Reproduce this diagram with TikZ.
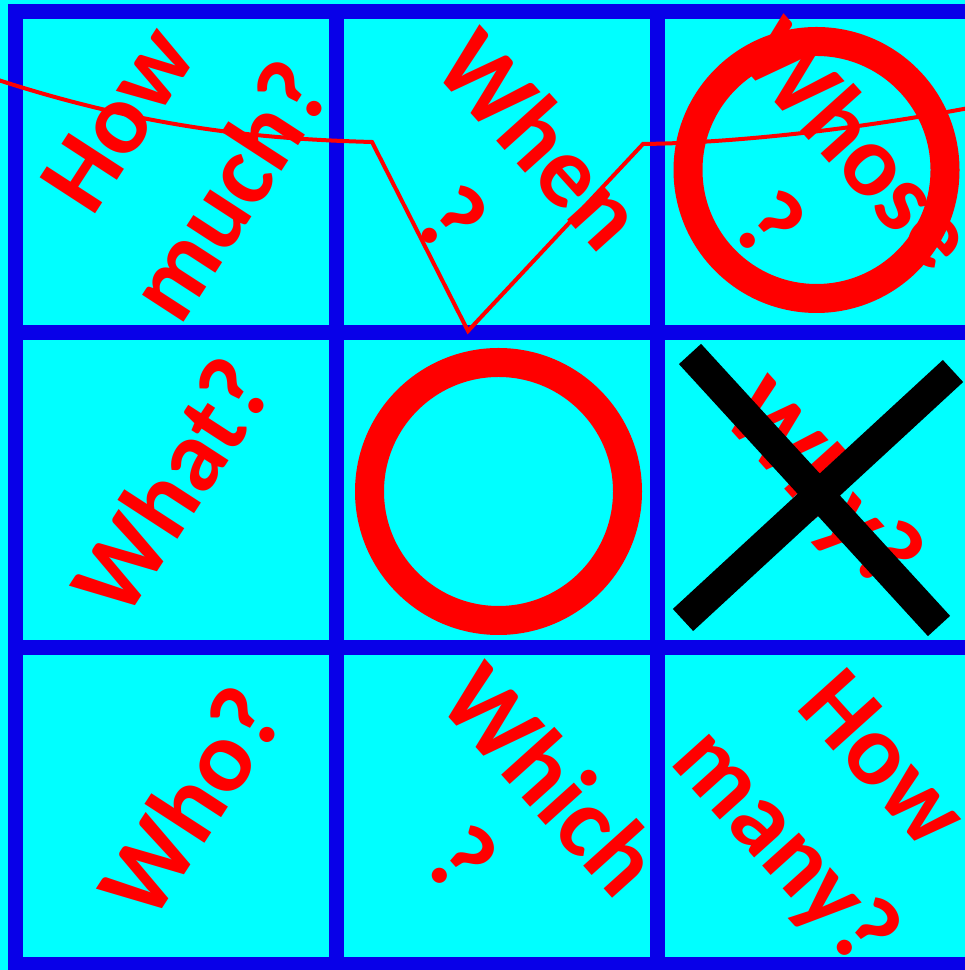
\documentclass[tikz,border=0pt]{standalone}
\usepackage{fontspec}
\setmainfont{Carlito}
\definecolor{gridblue}{RGB}{8,0,232}
\definecolor{cellcyan}{RGB}{0,255,255}
\begin{document}
\begin{tikzpicture}[
  word/.style={text=red, font=\bfseries\fontsize{29}{34}\selectfont, align=center, inner sep=0pt},
  upword/.style={word, rotate=57},
  downword/.style={word, rotate=-48},
  gridline/.style={gridblue, line width=0.15cm},
  ring/.style={red, line width=0.29cm},
  cross/.style={black, line width=0.3cm}
]

\clip (0,0) rectangle (9.65,9.7);
\fill[cellcyan] (0,0) rectangle (9.65,9.7);
\draw[gridline] (0.155,0.05) rectangle (9.785,9.585);
\draw[gridline] (3.36,0.05) -- (3.36,9.585);
\draw[gridline] (6.575,0.05) -- (6.575,9.585);
\draw[gridline] (0.155,6.375) -- (9.785,6.375);
\draw[gridline] (0.155,3.22) -- (9.785,3.22);

\node[upword] (howmuch) at (1.74,8.15) {How\\[4pt]much?};
\node[downword] (when) at (4.975,7.915) {When\\?};
\node[downword] (whose) at (8.15,7.87) {Whose\\?};
\node[upword] (what) at (1.71,4.84) {What?};
\node[downword] (why) at (8.2,4.83) {Why?};
\node[upword] (who) at (1.895,1.68) {Who?};
\node[downword] (which) at (5.075,1.515) {Which\\?};
\node[downword] (howmany) at (8.3,1.63) {How\\[3pt]many?};

\draw[ring] (4.985,4.785) circle (1.29);
\draw[ring] (8.165,8.0) circle (1.285);

\draw[cross] (6.9,6.16) -- (9.39,3.44);
\draw[cross] (6.83,3.5) -- (9.53,5.99);

\draw[red, line width=0.04cm] (-0.2,8.96) .. controls (1.4,8.42) and (2.6,8.31) .. (3.72,8.28)
  -- (4.68,6.39) -- (6.43,8.26) .. controls (7.3,8.27) and (8.6,8.4) .. (10,8.68);
\end{tikzpicture}
\end{document}
